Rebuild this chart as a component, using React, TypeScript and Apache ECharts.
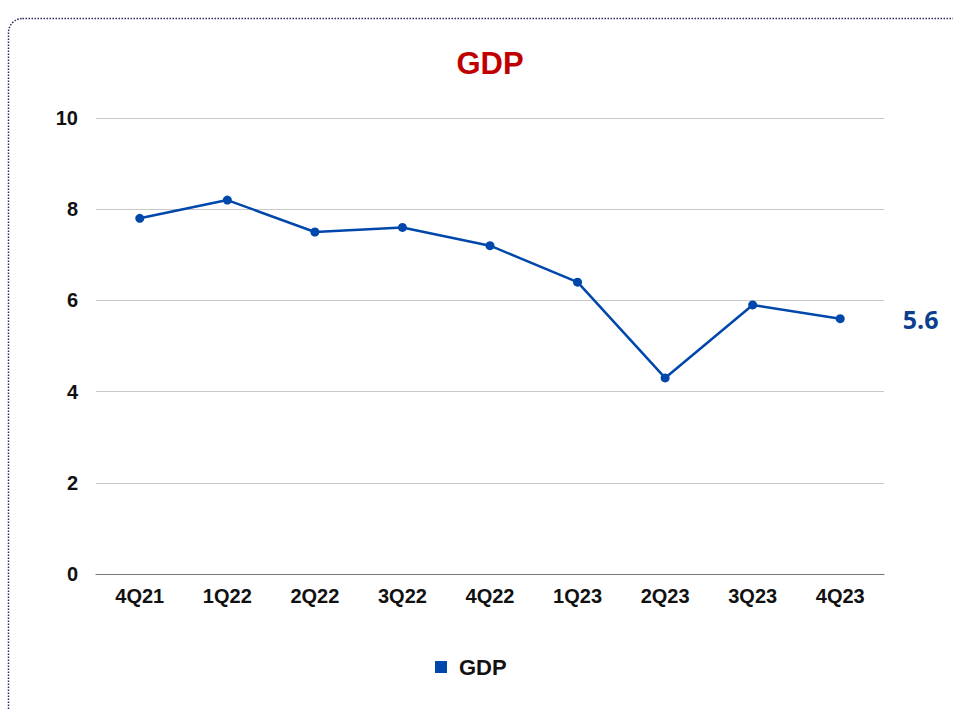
import React, { useEffect, useRef } from "react";
import * as echarts from "echarts";

const categories = ["4Q21", "1Q22", "2Q22", "3Q22", "4Q22", "1Q23", "2Q23", "3Q23", "4Q23"];
const gdpValues = [7.8, 8.2, 7.5, 7.6, 7.2, 6.4, 4.3, 5.9, 5.6];
const yTicks = { min: 0, max: 10, interval: 2 };

export default function App() {
  const ref = useRef<HTMLDivElement>(null);
  useEffect(() => {
    const chart = echarts.init(ref.current!, null, { renderer: "svg" });
    const lastIdx = gdpValues.length - 1;
    chart.setOption({
      animation: false,
      textStyle: { fontFamily: "Liberation Sans" },
      graphic: [
        {
          type: "rect",
          shape: { x: 8.5, y: 18.5, width: 1000, height: 740, r: 14 },
          style: { fill: "none", stroke: "#2a2a5c", lineWidth: 1.5, lineDash: [1.5, 1.5] },
          silent: true,
        },
      ],
      title: {
        text: "GDP",
        left: 485,
        textAlign: "center",
        top: 43,
        textStyle: { color: "#c00000", fontSize: 31, fontWeight: "bold", fontFamily: "Liberation Sans" },
      },
      legend: {
        data: ["GDP"],
        top: 651,
        left: 430,
        icon: "rect",
        itemWidth: 12,
        itemHeight: 12,
        itemGap: 12,
        textStyle: {
          fontSize: 22,
          fontWeight: "bold",
          color: "#111",
          fontFamily: "Liberation Sans",
          padding: [0, 0, 0, 7],
        },
      },
      grid: { left: 96, right: 69, top: 118, bottom: 135, containLabel: false },
      xAxis: {
        type: "category",
        data: categories,
        boundaryGap: true,
        axisLine: { lineStyle: { color: "#777", width: 1.2 } },
        axisTick: { show: false },
        axisLabel: { fontSize: 20, fontWeight: "bold", color: "#111", margin: 12 },
      },
      yAxis: {
        type: "value",
        min: yTicks.min,
        max: yTicks.max,
        interval: yTicks.interval,
        axisLine: { show: false },
        axisTick: { show: false },
        splitLine: { lineStyle: { color: "#c8c8c8", width: 1 } },
        axisLabel: { fontSize: 20, fontWeight: "bold", color: "#111", margin: 18 },
      },
      series: [
        {
          name: "GDP",
          type: "line",
          data: gdpValues.map((v, i) =>
            i === lastIdx
              ? {
                  value: v,
                  label: {
                    show: true,
                    position: "right",
                    distance: 58,
                    formatter: "{c}",
                    fontSize: 25,
                    fontWeight: "bold",
                    color: "#0d3f8f",
                    fontFamily: "Open Sans",
                  },
                }
              : v
          ),
          symbol: "circle",
          symbolSize: 9,
          itemStyle: { color: "#0047ab" },
          lineStyle: { color: "#0047ab", width: 2.5 },
        },
      ],
    });
    return () => chart.dispose();
  }, []);
  return <div ref={ref} style={{ position: "absolute", left: 0, top: 0, width: 953, height: 709 }} />;
}
